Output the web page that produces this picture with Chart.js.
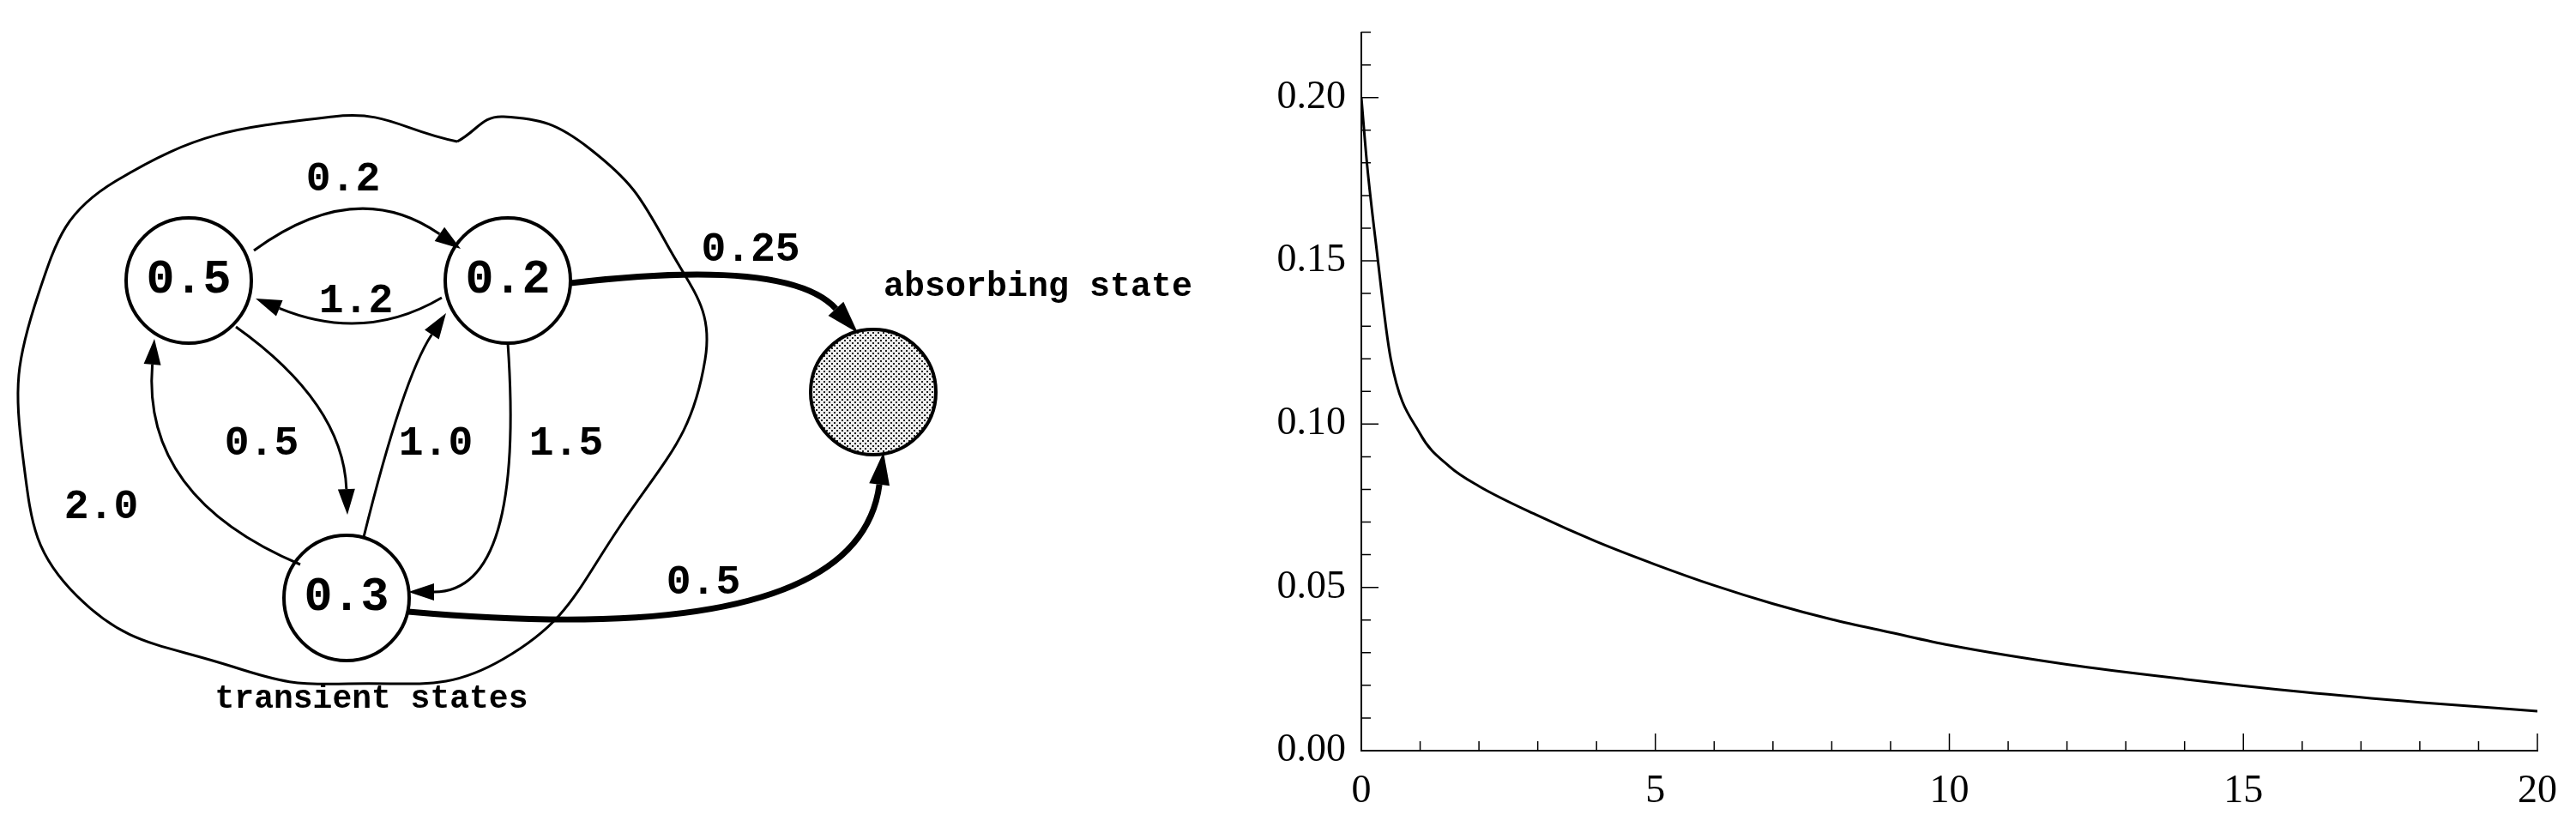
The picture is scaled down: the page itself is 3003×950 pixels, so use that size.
<!DOCTYPE html>
<html><head><meta charset="utf-8">
<script src="https://cdn.jsdelivr.net/npm/chart.js@4"></script>
<style>html,body{margin:0;padding:0;background:#fff;width:3003px;height:950px;overflow:hidden}
#left{position:absolute;left:0;top:0;width:1400px;height:950px}
#right{position:absolute;left:1400px;top:0;width:1603px;height:950px}</style>
</head><body>
<div id="left"><canvas id="c1"></canvas></div>
<div id="right"><canvas id="c2"></canvas></div>
<script>
// ---- curve data (right panel) ----
const timeValues = [0,0.1,0.25,0.5,1,1.5,2,3,4,5,6,7,8,9,10,12,14,16,18,20];
const probValues = [0.200,0.179,0.155,0.120,0.097,0.087,0.081,0.072,0.064,0.057,0.0506,0.045,0.0402,0.0362,0.0323,0.0264,0.0219,0.018,0.0148,0.0121];
const xTickLabels = ['0','5','10','15','20'];
const yTickLabels = ['0.00','0.05','0.10','0.15','0.20'];

// ---- diagram data (left panel) ----
const nodeLabels = ['0.5','0.2','0.3'];
const nodeX = [220,592,404];
const nodeY = [327,327,697];
const absorbX = 1018, absorbY = 457;
const blobX = [533,388,135,45,27,90,271,406,587,723,822,777,687,587,533];
const blobY = [165,136,211,342,535,695,777,797,768,613,419,284,173,136,165];
const edgeLabels = ['0.2','1.2','0.5','1.0','1.5','2.0','0.25','0.5'];
const edgeFrom = [[296,292],[515,347],[275,381],[424,626],[592,400],[350,658],[665,330],[476,713]];
const edgeCtrl = [[415,205],[425,400],[400,470],[470,440],[612,690],[165,580],[920,300],[1000,760]];
const edgeTo   = [[537,290],[298,348],[405,600],[520,365],[476,690],[180,395],[1000,388],[1030,527]];
const edgeThick = [false,false,false,false,false,false,true,true];
const edgeLabelPos = [[400,210],[415,352],[305,518],[508,518],[660,518],[118,592],[875,292],[820,680]];

const diagramPlugin = {
  id:'diagram',
  afterDatasetsDraw(chart){
    const ctx=chart.ctx, sx=chart.scales.x, sy=chart.scales.y;
    const X=v=>sx.getPixelForValue(v), Y=v=>sy.getPixelForValue(v);
    ctx.save();
    ctx.strokeStyle='#000';ctx.fillStyle='#000';
    edgeFrom.forEach((f,i)=>{
      const c=edgeCtrl[i], t=edgeTo[i];
      const hl=edgeThick[i]?38:30, hw=edgeThick[i]?12:10;
      const dx=t[0]-c[0], dy=t[1]-c[1], L=Math.hypot(dx,dy), ux=dx/L, uy=dy/L;
      const bx=t[0]-ux*hl, by=t[1]-uy*hl;
      ctx.lineWidth=edgeThick[i]?7:3;
      ctx.beginPath();ctx.moveTo(X(f[0]),Y(f[1]));
      ctx.quadraticCurveTo(X(c[0]),Y(c[1]),X(bx),Y(by));ctx.stroke();
      ctx.beginPath();ctx.moveTo(X(t[0]),Y(t[1]));
      ctx.lineTo(X(bx-uy*hw),Y(by+ux*hw));ctx.lineTo(X(bx+uy*hw),Y(by-ux*hw));ctx.closePath();ctx.fill();
    });
    ctx.font='bold 48px "Liberation Mono", "DejaVu Sans Mono", monospace';
    ctx.textAlign='center';ctx.textBaseline='middle';
    edgeLabels.forEach((l,i)=>ctx.fillText(l,X(edgeLabelPos[i][0]),Y(edgeLabelPos[i][1])));
    ctx.font='bold 55px "Liberation Mono", "DejaVu Sans Mono", monospace';
    nodeLabels.forEach((l,i)=>ctx.fillText(l,X(nodeX[i]),Y(nodeY[i])));
    ctx.font='bold 38px "Liberation Mono", "DejaVu Sans Mono", monospace';
    ctx.fillText('transient states',X(433),Y(815));
    ctx.font='bold 40px "Liberation Mono", "DejaVu Sans Mono", monospace';
    ctx.textAlign='left';
    ctx.fillText('absorbing state',X(1030),Y(335));
    ctx.restore();
  }
};

function makePattern(){
  const p=document.createElement('canvas');p.width=6;p.height=6;
  const g=p.getContext('2d');g.fillStyle='#eee';g.fillRect(0,0,6,6);
  g.fillStyle='#222';g.fillRect(0,0,2,2);g.fillRect(3,3,2,2);
  return document.getElementById('c1').getContext('2d').createPattern(p,'repeat');
}

new Chart(document.getElementById('c1'),{
  type:'scatter',
  data:{datasets:[
    {data:blobX.map((x,i)=>({x,y:blobY[i]})),showLine:true,tension:0.45,borderColor:'#000',borderWidth:3,pointRadius:0,fill:false},
    {data:nodeX.map((x,i)=>({x,y:nodeY[i]})),pointRadius:73,pointHoverRadius:73,pointBorderWidth:4,pointBackgroundColor:'#fff',pointBorderColor:'#000'},
    {data:[{x:absorbX,y:absorbY}],pointRadius:73,pointHoverRadius:73,pointBorderWidth:4,pointBackgroundColor:makePattern(),pointBorderColor:'#000'}
  ]},
  options:{responsive:true,maintainAspectRatio:false,animation:false,
    layout:{padding:0,autoPadding:false},
    plugins:{legend:{display:false},tooltip:{enabled:false}},
    scales:{x:{type:'linear',min:0,max:1400,display:false},y:{type:'linear',min:0,max:950,reverse:true,display:false}}},
  plugins:[diagramPlugin]
});

const tickPlugin={
  id:'ticks',
  afterDraw(chart){
    const ctx=chart.ctx,sx=chart.scales.x,sy=chart.scales.y,a=chart.chartArea;
    ctx.save();ctx.strokeStyle='#000';ctx.lineWidth=1.5;ctx.beginPath();
    for(let v=0;v<=20;v++){const p=sx.getPixelForValue(v),l=v%5===0?20:11;ctx.moveTo(p,a.bottom);ctx.lineTo(p,a.bottom-l);}
    for(let k=0;k<=22;k++){const p=sy.getPixelForValue(k/100),l=k%5===0?20:11;ctx.moveTo(a.left,p);ctx.lineTo(a.left+l,p);}
    ctx.stroke();ctx.restore();
  }
};
new Chart(document.getElementById('c2'),{
  type:'line',
  data:{datasets:[{data:timeValues.map((x,i)=>({x,y:probValues[i]})),borderColor:'#000',borderWidth:3,pointRadius:0,tension:0.4,cubicInterpolationMode:'monotone',fill:false}]},
  options:{responsive:true,maintainAspectRatio:false,animation:false,
    layout:{padding:{top:28,right:45,left:0,bottom:0}},
    plugins:{legend:{display:false},tooltip:{enabled:false}},
    scales:{
      x:{type:'linear',min:0,max:20,grid:{display:false},border:{color:'#000',width:2},
        afterFit(s){s.height=75;},
        ticks:{stepSize:5,maxRotation:0,color:'#000',padding:12,font:{family:'"Liberation Serif", serif',size:46},callback:(v)=>xTickLabels[v/5]}},
      y:{type:'linear',min:0,max:0.22,grid:{display:false},border:{color:'#000',width:2},
        afterFit(s){s.width=187;},
        ticks:{stepSize:0.05,color:'#000',padding:10,font:{family:'"Liberation Serif", serif',size:46},callback:(v)=>{const i=Math.round(v/0.05);return Math.abs(v-i*0.05)<1e-9?yTickLabels[i]:'';}}}
    }},
  plugins:[tickPlugin]
});
</script>
</body></html>
